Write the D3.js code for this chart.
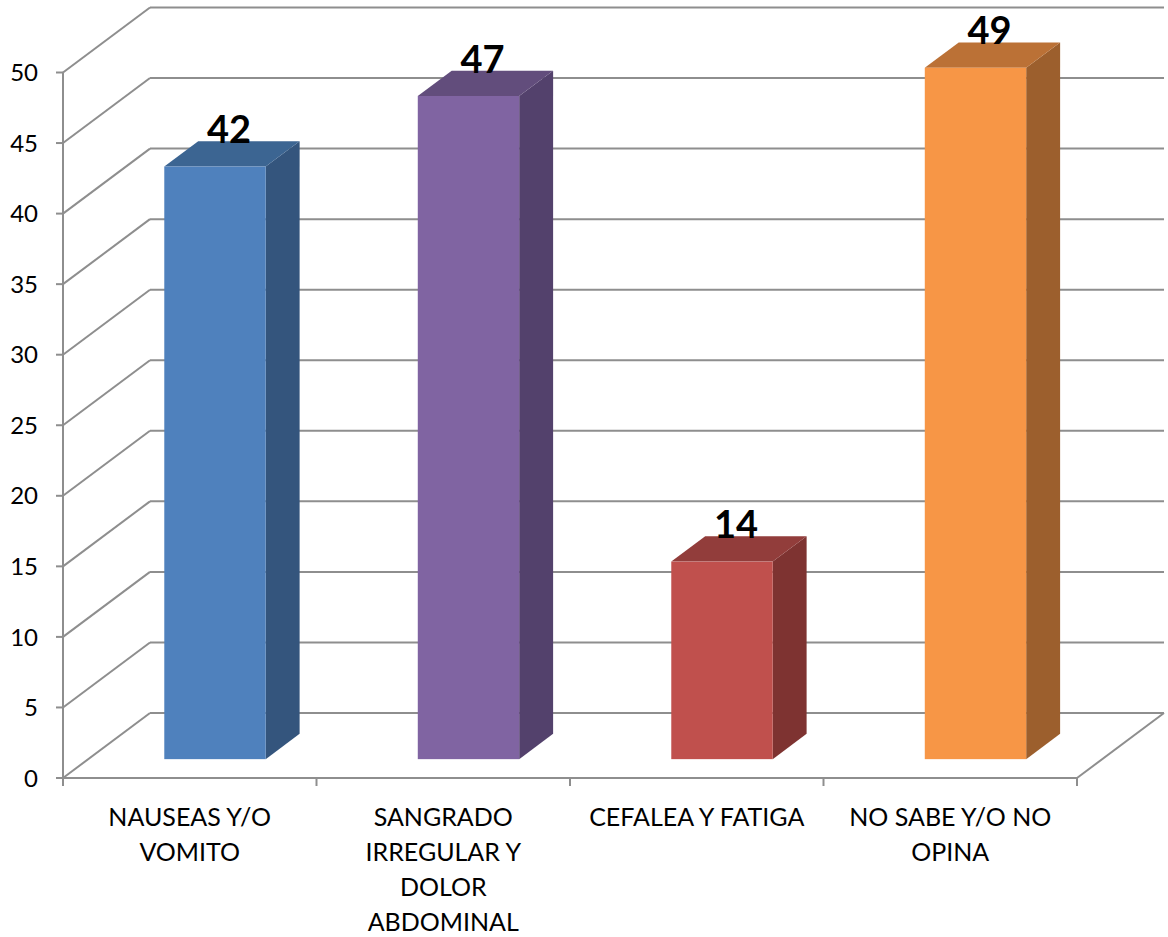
<!DOCTYPE html>
<html><head><meta charset="utf-8">
<script src="https://cdn.jsdelivr.net/npm/d3@7"></script>
<style>html,body{margin:0;padding:0;background:#fff}svg{display:block}</style>
</head><body>
<svg id="chart" width="1168" height="937"></svg>
<script>
const categories = ["NAUSEAS Y/O VOMITO", "SANGRADO IRREGULAR Y DOLOR ABDOMINAL", "CEFALEA Y FATIGA", "NO SABE Y/O NO OPINA"];
const categoryLines = [["NAUSEAS Y/O", "VOMITO"], ["SANGRADO", "IRREGULAR Y", "DOLOR", "ABDOMINAL"], ["CEFALEA Y FATIGA"], ["NO SABE Y/O NO", "OPINA"]];
const values = [42, 47, 14, 49];
const yTicks = [0, 5, 10, 15, 20, 25, 30, 35, 40, 45, 50];
const frontColors = ["#4F81BD", "#8064A2", "#C0504D", "#F79646"];
const topColors = ["#3C6592", "#624D7C", "#923D3B", "#BB7136"];
const sideColors = ["#34557D", "#53416C", "#7E3331", "#9C5F2D"];

(function () {
const svg = d3.select("#chart");
const font = "Lato, 'Open Sans', sans-serif";
const pLeft = 63, pRight = 1077, pBottom = 778, pTop = 72.5;
const DX = 87, DY = -65;           // full depth offset
const t0 = 0.29, t1 = 0.68;        // bar depth span

const y = d3.scaleLinear().domain([0, 50]).range([pBottom, pTop]);
const x = d3.scaleBand().domain(categories).range([pLeft, pRight]).paddingInner(0.6).paddingOuter(0.3);
const off = t => [DX * t, DY * t];

const gridColor = "#8e8e8e";
const grid = svg.append("g").attr("stroke", gridColor).attr("stroke-width", 2).attr("fill", "none");
yTicks.forEach(v => {
  const yf = y(v), yb = y(v) + DY;
  grid.append("line").attr("x1", pLeft + DX).attr("y1", yb).attr("x2", pRight + DX).attr("y2", yb);
  grid.append("line").attr("x1", pLeft).attr("y1", yf).attr("x2", pLeft + DX).attr("y2", yb);
});
grid.append("line").attr("x1", pRight).attr("y1", pBottom).attr("x2", pRight + DX).attr("y2", pBottom + DY);
grid.append("line").attr("x1", pLeft).attr("y1", pTop).attr("x2", pLeft).attr("y2", pBottom);
grid.append("line").attr("x1", pLeft).attr("y1", pBottom).attr("x2", pRight).attr("y2", pBottom);
yTicks.forEach(v => {
  grid.append("line").attr("x1", pLeft - 7).attr("y1", y(v)).attr("x2", pLeft).attr("y2", y(v));
});
const xTickPos = categories.map(c => x(c) - x.step() * x.paddingInner() / 2).concat([pRight]);
xTickPos.forEach(p => {
  grid.append("line").attr("x1", p).attr("y1", pBottom).attr("x2", p).attr("y2", pBottom + 8);
});

svg.append("g").selectAll("text").data(yTicks).join("text")
  .attr("x", 38).attr("y", d => y(d)).attr("dy", "0.36em")
  .attr("text-anchor", "end").attr("font-family", font).attr("font-size", 24).attr("fill", "#000")
  .text(d => d);

const bars = svg.append("g");
categories.forEach((c, i) => {
  const [ox0, oy0] = off(t0), [ox1, oy1] = off(t1);
  const xl = x(c) + ox0, xr = x(c) + x.bandwidth() + ox0;
  const yb = y(0) + oy0, yt = y(values[i]) + oy0;
  const dx = ox1 - ox0, dy = oy1 - oy0;
  bars.append("path").attr("fill", sideColors[i])
    .attr("d", `M${xr},${yb}L${xr + dx},${yb + dy}L${xr + dx},${yt + dy}L${xr},${yt}Z`);
  bars.append("path").attr("fill", topColors[i])
    .attr("d", `M${xl},${yt}L${xl + dx},${yt + dy}L${xr + dx},${yt + dy}L${xr},${yt}Z`);
  bars.append("rect").attr("fill", frontColors[i])
    .attr("x", xl).attr("y", yt).attr("width", xr - xl).attr("height", yb - yt);
  svg.append("text").attr("x", (xl + xr) / 2 + 14).attr("y", yt + dy + 2)
    .attr("text-anchor", "middle").attr("font-family", font).attr("font-weight", "bold")
    .attr("font-size", 38).attr("fill", "#000").text(values[i]);
});

categories.forEach((c, i) => {
  const t = svg.append("text").attr("text-anchor", "middle").attr("font-family", font)
    .attr("font-size", 25).attr("fill", "#000");
  categoryLines[i].forEach((ln, k) => {
    t.append("tspan").attr("x", x(c) + x.bandwidth() / 2).attr("y", 826 + k * 35).text(ln);
  });
});
})();
</script>
</body></html>
